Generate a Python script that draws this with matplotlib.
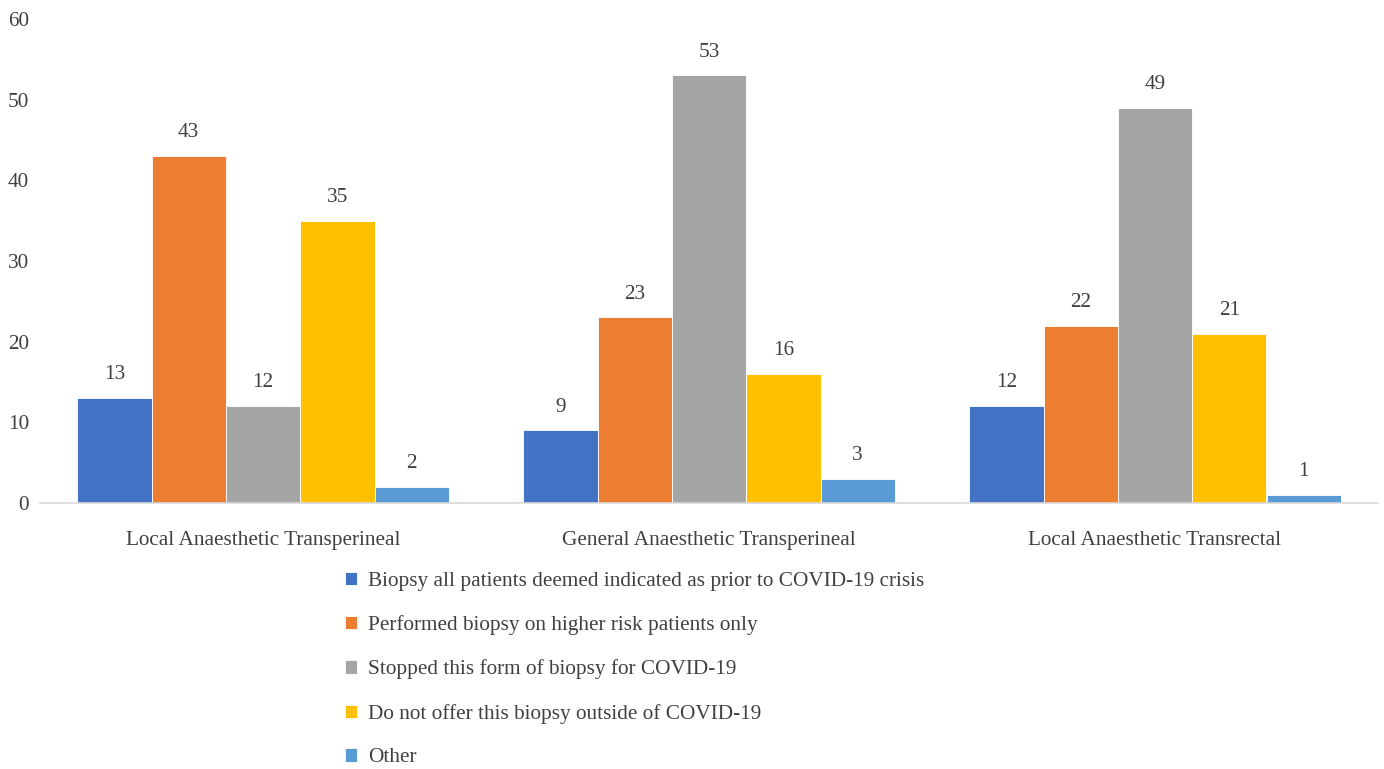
import matplotlib
matplotlib.use("Agg")
import matplotlib.pyplot as plt
import numpy as np

categories = ["Local Anaesthetic Transperineal", "General Anaesthetic Transperineal", "Local Anaesthetic Transrectal"]
series_names = [
    "Biopsy all patients deemed indicated as prior to COVID-19 crisis",
    "Performed biopsy on higher risk patients only",
    "Stopped this form of biopsy for COVID-19",
    "Do not offer this biopsy outside of COVID-19",
    "Other",
]
values_all = [13, 9, 12]
values_higher = [43, 23, 22]
values_stopped = [12, 53, 49]
values_notoffer = [35, 16, 21]
values_other = [2, 3, 1]
series_values = [values_all, values_higher, values_stopped, values_notoffer, values_other]
colors = ["#4472C4", "#ED7D31", "#A5A5A5", "#FFC000", "#5B9BD5"]

plt.rcParams['font.family'] = ['Liberation Serif', 'DejaVu Serif']
text_color = "#404040"
fs = 15.3

fig = plt.figure(figsize=(13.84, 7.69), dpi=100)
ax = fig.add_axes([40/1384, 1-503/769, 1338/1384, (503-19)/769])

x = np.arange(len(categories))
w = 1/6
handles = []
for i, (vals, c, name) in enumerate(zip(series_values, colors, series_names)):
    pos = x + (i - 2) * w
    bars = ax.bar(pos, vals, width=w, color=c, edgecolor="white", linewidth=0.6, label=name)
    handles.append(bars)
    for p, v in zip(pos, vals):
        ax.annotate(str(v), (p, v), xytext=(0, 10), textcoords="offset points",
                    ha="center", va="bottom", fontsize=fs, color=text_color)

ax.set_xlim(-0.5, 2.5)
ax.set_ylim(0, 60)
ax.set_yticks(range(0, 61, 10))
ax.set_xticks(x)
ax.set_xticklabels(categories)
for s in ["top", "right", "left"]:
    ax.spines[s].set_visible(False)
ax.spines["bottom"].set_color("#D9D9D9")
ax.spines["bottom"].set_linewidth(1.2)
ax.tick_params(axis="both", length=0, labelsize=fs, labelcolor=text_color)
ax.tick_params(axis="x", pad=20)
ax.tick_params(axis="y", pad=8)

leg = fig.legend(handles=handles, labels=series_names, loc="upper left",
                 bbox_to_anchor=(336/1384, 1-563/769), frameon=False,
                 fontsize=fs, labelcolor=text_color, handlelength=0.6, handleheight=0.6,
                 handletextpad=0.5, labelspacing=1.15, borderaxespad=0)

fig.savefig("out.png", dpi=100)
